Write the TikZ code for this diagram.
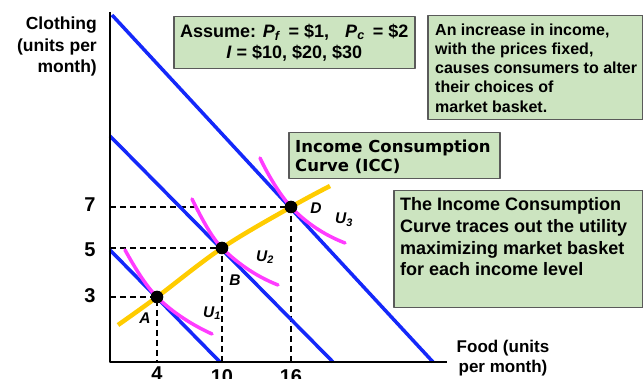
\documentclass[tikz,border=0pt]{standalone}
\usepackage{fontspec}
\setmainfont{Liberation Sans}
\newfontfamily\verd{DejaVu Sans}
\definecolor{myblue}{RGB}{20,40,250}
\definecolor{mymag}{RGB}{255,60,255}
\definecolor{myyel}{RGB}{255,204,0}
\definecolor{boxfill}{RGB}{204,228,192}
\definecolor{boxline}{RGB}{90,90,90}
\begin{document}
\begin{tikzpicture}[x=1pt,y=-1pt,line join=round,
  bl/.style={draw=myblue,line width=3.5pt},
  icurve/.style={draw=mymag,line width=3.5pt,line cap=round},
  dsh/.style={line width=1.4pt,dash pattern=on 6pt off 4pt},
  gbox/.style={draw=boxline,fill=boxfill,line width=1.5pt,inner sep=0pt},
  btxt/.style={font=\fontsize{18}{21.7}\selectfont\bfseries,align=left,inner sep=0pt,anchor=north west},
  ticklab/.style={font=\fontsize{20}{22}\selectfont\bfseries,inner sep=0pt,anchor=base},
  ptlab/.style={font=\fontsize{15.5}{18}\selectfont\bfseries\itshape,inner sep=0pt},
  dot/.style={circle,fill=black,inner sep=0pt,minimum size=12.6pt}]
\useasboundingbox (0,0) rectangle (643,379);

% points
\coordinate (O) at (110,362);
\coordinate (A) at (157,297);
\coordinate (B) at (222,248);
\coordinate (D) at (291,207);
\coordinate (ytop) at (110,12);
\coordinate (xend) at (447,362);

% dashed guides
\draw[dsh] (110,297) -- (A) -- (157,362);
\draw[dsh] (110,248) -- (B) -- (222,362);
\draw[dsh] (110,207) -- (D) -- (291,362);

% budget lines
\draw[bl] (112,15) -- (433,362);
\draw[bl] (110,136) -- (333,362);
\draw[bl] (110,250) -- (220,362);

% axes
\draw[line width=2pt] (ytop) -- (O) -- (xend);

% indifference curves
\draw[icurve] (125,250) .. controls (135,268) and (146,286) .. (A) .. controls (171,311) and (190,324) .. (212,334);
\draw[icurve] (192,199) .. controls (200,215) and (211,237) .. (B) .. controls (236,262) and (255,276) .. (278,285);
\draw[icurve] (260,158) .. controls (268,175) and (280,195) .. (D) .. controls (305,222) and (324,235) .. (345,243);

% ICC
\draw[draw=myyel,line width=4.5pt] plot[smooth,tension=0.6] coordinates {(118,325) (157,297) (222,248) (291,207) (330,186)};

% dots
\node[dot] (dA) at (A) {};
\node[dot] (dB) at (B) {};
\node[dot] (dD) at (D) {};

% point labels
\node[ptlab] (lA) at (145,318) {A};
\node[ptlab] (lB) at (235,280) {B};
\node[ptlab] (lD) at (316,208) {D};
\node[ptlab] (lU1) at (212,313) {U\textsubscript{1}};
\node[ptlab] (lU2) at (265,257) {U\textsubscript{2}};
\node[ptlab] (lU3) at (344,220) {U\textsubscript{3}};

% tick labels
\node[ticklab] (t7) at (90,212) {7};
\node[ticklab] (t5) at (90,257) {5};
\node[ticklab] (t3) at (90,303) {3};
\node[ticklab] (t4) at (157,381) {4};
\node[ticklab] (t10) at (222,384) {10};
\node[ticklab] (t16) at (291,384) {16};

% axis labels
\node[font=\fontsize{17.5}{21.3}\selectfont\bfseries,align=right,inner sep=0pt,anchor=north east] (ylab) at (97,17) {Clothing\\(units per\\month)};
\node[font=\fontsize{17}{19.5}\selectfont\bfseries,align=center,inner sep=0pt,anchor=north] (xlab) at (503,340) {Food (units\\per month)};

% boxes
\node[gbox,anchor=north west,minimum width=241pt,minimum height=52pt,align=center,
  font=\fontsize{18}{21.5}\selectfont\bfseries] (asm) at (173,16)
  {Assume: \textit{P}\textsubscript{\textit{f}}\, = \$1,\hspace{16pt}\textit{P}\textsubscript{\textit{c}}\, = \$2\\
   \textit{I} = \$10, \$20, \$30\hspace{23pt}};

\node[gbox,anchor=north west,minimum width=215pt,minimum height=104pt] (inc) at (427,15) {};
\node[btxt,font=\fontsize{16}{19.2}\selectfont\bfseries] (inctxt) at (435,23.5)
  {An increase in income,\\with the prices fixed,\\causes consumers to alter\\their choices of\\market basket.};

\node[gbox,anchor=north west,minimum width=211pt,minimum height=46pt] (icc) at (288,132) {};
\node[btxt,font=\fontsize{16.5}{19.5}\selectfont\verd\bfseries] (icctxt) at (295,139.5)
  {Income Consumption\\Curve (ICC)};

\node[gbox,anchor=north west,minimum width=249pt,minimum height=117pt] (trace) at (393,190) {};
\node[btxt] (tracetxt) at (400,197.5)
  {The Income Consumption\\Curve traces out the utility\\maximizing market basket\\for each income level};
\end{tikzpicture}
\end{document}
